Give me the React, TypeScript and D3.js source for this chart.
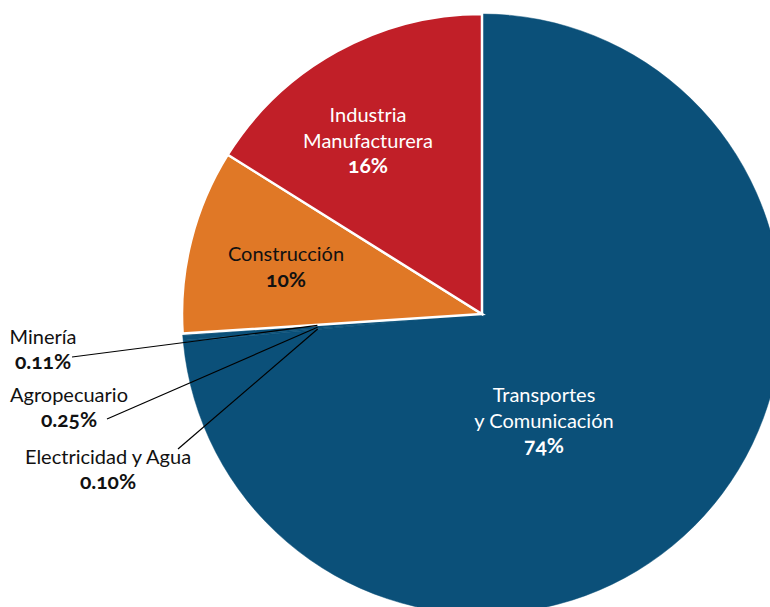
import React, { useEffect, useRef } from "react";
import * as d3 from "d3";

// sectors, clockwise from 12 o'clock
const sectors = [
  "Transportes y Comunicación",
  "Electricidad y Agua",
  "Agropecuario",
  "Minería",
  "Construcción",
  "Industria Manufacturera",
];
const shares = [73.5, 0.1, 0.25, 0.11, 9.95, 16.09];
const shareLabels = ["74%", "0.10%", "0.25%", "0.11%", "10%", "16%"];
const colors = ["#0b5079", "#0b5079", "#0b5079", "#0b5079", "#e07826", "#c11f28"];

const width = 770;
const height = 607;

const PieChart = () => {
  const ref = useRef<SVGSVGElement>(null);

  useEffect(() => {
    if (!ref.current) return;
    const svg = d3.select(ref.current);
    svg.selectAll("*").remove();

    const cx = 482;
    const cy = 314;
    const radius = 300;
    const font = "Lato, 'Open Sans', sans-serif";
    const fs = 20;
    const pctFs = 21;

    const data = sectors.map((s, i) => ({ name: s, value: shares[i], label: shareLabels[i], color: colors[i] }));

    const pie = d3
      .pie<any>()
      .sort(null)
      .value((d: any) => d.value);
    const arcs = pie(data);
    const arc = d3.arc<any>().innerRadius(0).outerRadius(radius);

    const g = svg.append("g").attr("transform", `translate(${cx},${cy})`);

    // blue + tiny slices have no edge of their own; the other two draw the white lines
    const plain = (d: any) => d.data.value < 1 || d.index === 0;
    g.selectAll("path.plain")
      .data(arcs.filter(plain))
      .enter()
      .append("path")
      .attr("d", arc as any)
      .attr("fill", (d: any) => d.data.color)
      .attr("stroke", (d: any) => d.data.color)
      .attr("stroke-width", 0.5);
    g.selectAll("path.edged")
      .data(arcs.filter((d) => !plain(d)))
      .enter()
      .append("path")
      .attr("d", arc as any)
      .attr("fill", (d: any) => d.data.color)
      .attr("stroke", "#fff")
      .attr("stroke-width", 2.5);

    // inside labels
    const inside: { [k: string]: { x: number; y: number; lines: string[]; fill: string } } = {
      "Transportes y Comunicación": { x: 544, y: 402, lines: ["Transportes", "y Comunicación"], fill: "#fff" },
      "Construcción": { x: 286, y: 261, lines: ["Construcción"], fill: "#111" },
      "Industria Manufacturera": { x: 368, y: 122, lines: ["Industria", "Manufacturera"], fill: "#fff" },
    };
    arcs.forEach((a: any) => {
      const p = inside[a.data.name];
      if (!p) return;
      const t = svg
        .append("text")
        .attr("text-anchor", "middle")
        .attr("font-family", font)
        .attr("font-size", fs)
        .attr("fill", p.fill);
      p.lines.forEach((l, i) => {
        t.append("tspan").attr("x", p.x).attr("y", p.y + i * 25.5).text(l);
      });
      t.append("tspan")
        .attr("x", p.x)
        .attr("y", p.y + p.lines.length * 25.5)
        .attr("font-weight", "bold")
        .attr("font-size", pctFs)
        .style("font-variant-numeric", "oldstyle-nums")
        .text(a.data.label);
    });

    // outside labels with leader lines for the tiny slices
    const outside: { [k: string]: { x: number; y: number; ex: number; ey: number } } = {
      "Minería": { x: 43, y: 344, ex: 72, ey: 357 },
      "Agropecuario": { x: 69, y: 402, ex: 107, ey: 419 },
      "Electricidad y Agua": { x: 108, y: 464, ex: 178, ey: 449 },
    };
    const anchorArc = d3.arc<any>().innerRadius(165).outerRadius(165);
    arcs.forEach((a: any) => {
      const p = outside[a.data.name];
      if (!p) return;
      const [ax, ay] = anchorArc.centroid(a);
      svg
        .append("line")
        .attr("x1", cx + ax)
        .attr("y1", cy + ay)
        .attr("x2", p.ex)
        .attr("y2", p.ey)
        .attr("stroke", "#000")
        .attr("stroke-width", 1.2);
      const t = svg
        .append("text")
        .attr("text-anchor", "middle")
        .attr("font-family", font)
        .attr("font-size", fs)
        .attr("fill", "#111");
      t.append("tspan").attr("x", p.x).attr("y", p.y).text(a.data.name);
      t.append("tspan")
        .attr("x", p.x)
        .attr("y", p.y + 25)
        .attr("font-weight", "bold")
        .attr("font-size", pctFs)
        .style("font-variant-numeric", "oldstyle-nums")
        .text(a.data.label);
    });
  }, []);

  return (
    <svg
      ref={ref}
      width={width}
      height={height}
      style={{ position: "absolute", left: 0, top: 0, background: "#fff", overflow: "hidden" }}
    />
  );
};

export default function App() {
  return <PieChart />;
}
